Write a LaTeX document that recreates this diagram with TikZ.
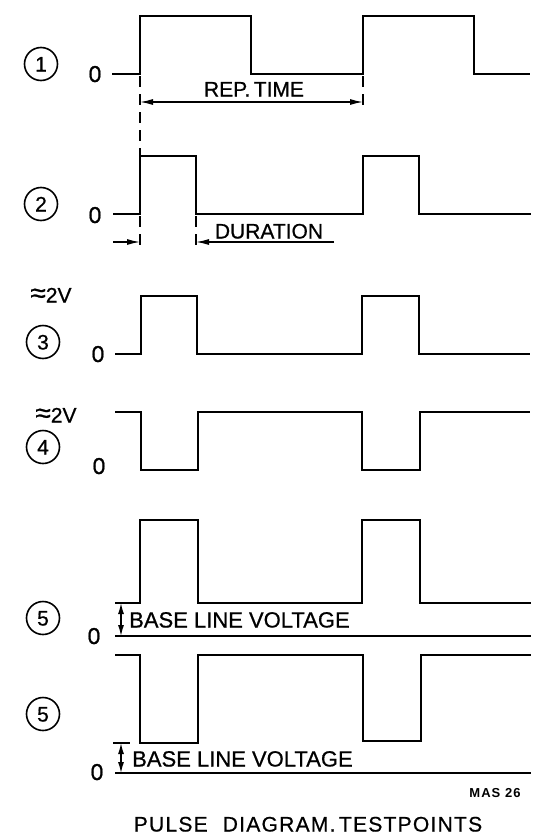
\documentclass[tikz,border=0pt]{standalone}
\usepackage{fontspec}
\setmainfont{Liberation Sans}
\newfontfamily\dinfont{Liberation Sans}[FakeBold=0.7]
\usetikzlibrary{arrows.meta}
\tikzset{
  >={Latex[length=13pt,width=6pt]},
  sig/.style={line width=2.1pt},
  dim/.style={line width=1.3pt},
  guide/.style={line width=1.5pt,dash pattern=on 11pt off 7pt},
  tp/.style={draw,circle,line width=1.6pt,minimum size=33pt,inner sep=0pt,
    text height=15pt,text depth=0pt,font=\dinfont\fontsize{21}{21}\selectfont},
  lbl/.style={inner sep=0pt,text height=15pt,text depth=0pt,font=\dinfont\fontsize{21}{21}\selectfont},
  zlbl/.style={inner sep=0pt,text height=16pt,text depth=0pt,font=\dinfont\fontsize{23}{23}\selectfont},
}
\begin{document}
\begin{tikzpicture}[x=1pt,y=-1pt]
\useasboundingbox (0,0) rectangle (546,838);
% Test points
\foreach \n/\x/\y [count=\i] in {1/41/64,2/41/204,3/43/342,4/43/447,5/43/618,5/43/714}
  \node[tp] (tp\i) at (\x,\y) {\n};
% Zero levels
\foreach \x/\y [count=\i] in {95/74,95/215,98/354,99/466,94/636,97/772}
  \node[zlbl] (zero\i) at (\x,\y) {0};
\node[lbl] (amp3) at (51,295) {{\fontsize{28}{28}\selectfont ≈}2V};
\node[lbl] (amp4) at (56,415) {{\fontsize{28}{28}\selectfont ≈}2V};
% Signals
\draw[sig] (112,74) -- (140,74) -- (140,16) -- (251,16) -- (251,74) -- (363,74) -- (363,16) -- (474,16) -- (474,74) -- (530,74);
\draw[sig] (113,214) -- (140,214) -- (140,156) -- (196,156) -- (196,214) -- (363,214) -- (363,156) -- (419,156) -- (419,214) -- (531,214);
\draw[sig] (115,354) -- (141,354) -- (141,296) -- (197,296) -- (197,354) -- (362,354) -- (362,296) -- (419,296) -- (419,354) -- (530,354);
\draw[sig] (115,412) -- (141,412) -- (141,470) -- (198,470) -- (198,412) -- (362,412) -- (362,470) -- (420,470) -- (420,412) -- (530,412);
\draw[sig] (115,603) -- (140,603) -- (140,520) -- (198,520) -- (198,603) -- (362,603) -- (362,520) -- (420,520) -- (420,603) -- (531,603);
\draw[sig] (115,636) -- (531,636);
\draw[sig] (115,655) -- (140,655) -- (140,743) -- (198,743) -- (198,655) -- (363,655) -- (363,741) -- (421,741) -- (421,655) -- (531,655);
\draw[sig] (113,743) -- (130,743);
\draw[sig] (115,773) -- (531,773);
% Rep. time
\coordinate (rt1) at (140,102);
\coordinate (rt2) at (363,102);
\draw[guide] (140,76) -- (140,156);
\draw[guide] (363,76) -- (363,112);
\draw[dim,<->] (rt1) -- (rt2);
\node[lbl] (rep) at (254,89) {REP.\,TIME};
% Duration
\coordinate (du0) at (113,242);
\coordinate (du1) at (140,242);
\coordinate (du2) at (196,242);
\coordinate (du3) at (334,242);
\draw[guide] (140,216) -- (140,252);
\draw[guide] (196,216) -- (196,252);
\draw[dim,->] (du0) -- (du1);
\draw[dim,->] (du3) -- (du2);
\node[lbl] (dur) at (269,231) {DURATION};
% Base line voltage
\coordinate (bl1) at (121,603);
\coordinate (bl2) at (121,636);
\coordinate (bl3) at (121,743);
\coordinate (bl4) at (121,773);
\draw[dim,<->,>={Latex[length=11pt,width=6pt]}] (bl1) -- (bl2);
\draw[dim,<->,>={Latex[length=11pt,width=6pt]}] (bl3) -- (bl4);
\node[lbl,anchor=west,font=\dinfont\fontsize{22}{22}\selectfont] (base1) at (129,620) {BASE LINE VOLTAGE};
\node[lbl,anchor=west,font=\dinfont\fontsize{22}{22}\selectfont] (base2) at (132,759) {BASE LINE VOLTAGE};
% Caption
\node[inner sep=0pt,font=\fontsize{13}{13}\selectfont\bfseries\addfontfeature{LetterSpace=8}] (mas) at (495,793) {MAS 26};
\node[lbl,font=\dinfont\fontsize{21}{21}\selectfont\addfontfeature{LetterSpace=6}] (title) at (308,824) {PULSE\hspace{8pt} DIAGRAM.\,TESTPOINTS};
\end{tikzpicture}
\end{document}
